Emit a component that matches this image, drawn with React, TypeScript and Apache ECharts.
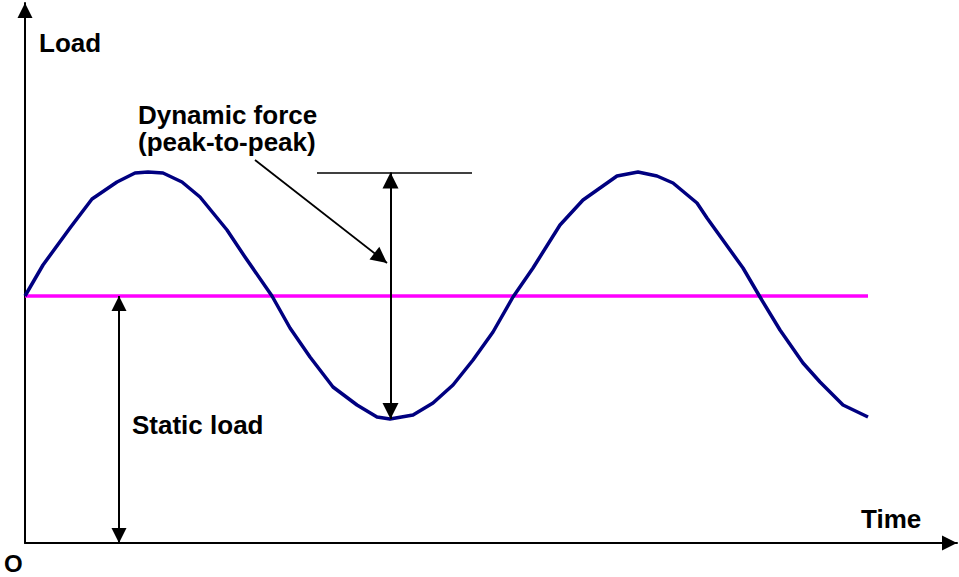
import React, { useEffect, useRef } from "react";
import * as echarts from "echarts";

// Curve vertices (time, load)
const timeValues = [
  0, 0.18, 0.45, 0.67, 0.92, 1.1, 1.23, 1.38, 1.57, 1.75, 2.02, 2.2, 2.47, 2.65, 2.85, 3.08, 3.32,
  3.52, 3.65, 3.88, 4.08, 4.28, 4.48, 4.68, 4.88, 5.08, 5.35, 5.58, 5.92, 6.13, 6.32, 6.48, 6.72,
  6.82, 7.18, 7.35, 7.55, 7.78, 7.95, 8.18, 8.43,
];
const loadValues = [
  2.47, 2.78, 3.15, 3.44, 3.61, 3.7, 3.71, 3.7, 3.61, 3.46, 3.13, 2.86, 2.47, 2.15, 1.86, 1.56, 1.38,
  1.26, 1.24, 1.28, 1.4, 1.58, 1.83, 2.11, 2.46, 2.75, 3.18, 3.43, 3.67, 3.71, 3.67, 3.6, 3.4, 3.25,
  2.75, 2.46, 2.13, 1.8, 1.61, 1.38, 1.26,
];

// Static load level and its extent in time
const staticLoad = 2.47;
const staticSpan = [0, 8.43];

// Axis ranges
const timeRange = [0, 9.32];
const loadRange = [0, 5.4];

// Annotation geometry in data units
const staticArrow = { time: 0.94, from: 2.47, to: 0 };
const dynamicArrow = { time: 3.655, from: 3.705, to: 1.24 };
const peakTick = { load: 3.705, from: 2.92, to: 4.47 };
const leaderLine = { start: [2.3, 3.83], end: [3.62, 2.8] };

// Texts
const labels = {
  yName: "Load",
  xName: "Time",
  origin: "O",
  dynamic1: "Dynamic force",
  dynamic2: "(peak-to-peak)",
  staticName: "Static load",
};

export default function App() {
  const ref = useRef<HTMLDivElement>(null);

  useEffect(() => {
    if (!ref.current) return;
    const chart = echarts.init(ref.current, null, { renderer: "svg" });
    const font = '"Liberation Sans", Arial, Helvetica, sans-serif';
    const blackLine = { color: "#000", width: 2, type: "solid" as const };

    const textEl = (text: string, x: number, y: number, size = 26) => ({
      type: "text",
      x,
      y,
      silent: true,
      style: {
        text,
        fill: "#000",
        font: `bold ${size}px ${font}`,
        textAlign: "left",
        textVerticalAlign: "middle",
        verticalAlign: "middle",
      },
    });

    const axisCommon = {
      type: "value" as const,
      axisLine: {
        show: true,
        onZero: false,
        symbol: ["none", "triangle"],
        symbolSize: [15, 15],
        symbolOffset: [0, -7.5],
        lineStyle: { color: "#000", width: 2 },
      },
      axisTick: { show: false },
      axisLabel: { show: false },
      splitLine: { show: false },
    };

    chart.setOption({
      animation: false,
      backgroundColor: "#fff",
      grid: { left: 25, right: 2, top: 3, bottom: 34 },
      xAxis: { ...axisCommon, min: timeRange[0], max: timeRange[1] },
      yAxis: { ...axisCommon, min: loadRange[0], max: loadRange[1] },
      series: [
        {
          type: "line",
          name: "static",
          data: [
            [staticSpan[0], staticLoad],
            [staticSpan[1], staticLoad],
          ],
          symbol: "none",
          silent: true,
          lineStyle: { color: "#ff00ff", width: 3.5 },
        },
        {
          type: "line",
          name: "load",
          data: timeValues.map((t, i) => [t, loadValues[i]]),
          symbol: "none",
          silent: true,
          lineStyle: { color: "#000080", width: 3.5, join: "round" },
        },
        {
          type: "line",
          name: "annotations",
          data: [],
          symbol: "none",
          silent: true,
          markLine: {
            silent: true,
            animation: false,
            symbolSize: 15,
            symbolOffset: [
              [0, 7.5],
              [0, 7.5],
            ],
            label: { show: false },
            emphasis: { disabled: true },
            lineStyle: blackLine,
            data: [
              [
                { coord: [staticArrow.time, staticArrow.from], symbol: "triangle" },
                { coord: [staticArrow.time, staticArrow.to], symbol: "triangle" },
              ],
              [
                { coord: [dynamicArrow.time, dynamicArrow.from], symbol: "triangle", symbolSize: 16, symbolOffset: [0, 8] },
                { coord: [dynamicArrow.time, dynamicArrow.to], symbol: "triangle", symbolSize: 16, symbolOffset: [0, 8] },
              ],
              [
                { coord: [peakTick.from, peakTick.load], symbol: "none", lineStyle: { color: "#000", width: 1.5, type: "solid" } },
                { coord: [peakTick.to, peakTick.load], symbol: "none" },
              ],
              [
                { coord: leaderLine.start, symbol: "none", lineStyle: { color: "#000", width: 1.8, type: "solid" } },
                { coord: leaderLine.end, symbol: "triangle", symbolSize: 16, symbolOffset: [0, 8] },
              ],
            ],
          },
        },
      ],
      graphic: [
        textEl(labels.yName, 39, 43),
        textEl(labels.dynamic1, 138, 115),
        textEl(labels.dynamic2, 138, 142),
        textEl(labels.staticName, 132, 424.5),
        textEl(labels.xName, 861, 519),
        textEl(labels.origin, 4, 563.5, 24),
      ],
    });

    return () => chart.dispose();
  }, []);

  return (
    <div
      ref={ref}
      style={{ position: "fixed", left: 0, top: 0, width: 959, height: 577, background: "#fff" }}
    />
  );
}
